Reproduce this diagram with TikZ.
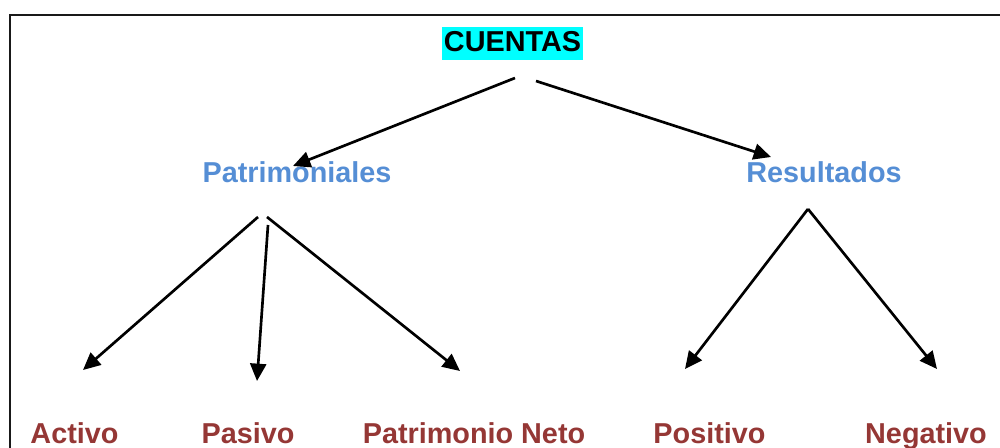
\documentclass[tikz,border=0pt]{standalone}
\usepackage{fontspec}
\setmainfont{Liberation Sans}
\usetikzlibrary{arrows.meta}

\definecolor{azulcuenta}{RGB}{85,142,213}
\definecolor{rojocuenta}{RGB}{149,55,53}

\tikzset{every picture/.style={line width=0.75pt}}
\tikzset{
  titulo/.style={anchor=base, inner sep=0pt, font=\bfseries\fontsize{21.6}{26}\selectfont},
  flecha/.style={line width=2pt, -{Triangle[length=13pt,width=12pt]}}
}

\begin{document}
\begin{tikzpicture}[x=0.75pt,y=0.75pt,yscale=-1,xscale=1]
\clip (0,0) rectangle (1000,448);

%Shape: Rectangle
\draw [line width=1.5pt, color={rgb, 255:red, 25; green, 25; blue, 25 }] (9.5,15) rectangle (1020,470) ;

% Text Node
\node (cuentas) at (512.5,52) [titulo, fill={rgb, 255:red, 0; green, 255; blue, 255 }, inner xsep=1.5pt, text height=18.75pt, text depth=6pt] {CUENTAS};
% Text Node
\node (patrimoniales) at (297,183) [titulo, color=azulcuenta] {Patrimoniales};
% Text Node
\node (resultados) at (824,183) [titulo, color=azulcuenta] {Resultados};
% Text Node
\node (activo) at (74.5,444) [titulo, color=rojocuenta] {Activo};
% Text Node
\node (pasivo) at (248,444) [titulo, color=rojocuenta] {Pasivo};
% Text Node
\node (neto) at (474,444) [titulo, color=rojocuenta] {Patrimonio Neto};
% Text Node
\node (positivo) at (709.5,444) [titulo, color=rojocuenta] {Positivo};
% Text Node
\node (negativo) at (926,444) [titulo, color=rojocuenta] {Negativo};

%Arrow ends
\coordinate (cuentasL) at (515,78) ;
\coordinate (cuentasR) at (536,81) ;
\coordinate (patrimonialesT) at (293,166) ;
\coordinate (resultadosT) at (771,157) ;
\coordinate (patrimonialesL) at (258,217) ;
\coordinate (patrimonialesM) at (268,225) ;
\coordinate (patrimonialesR) at (267,217) ;
\coordinate (resultadosB) at (808,209) ;
\coordinate (activoT) at (83,370) ;
\coordinate (pasivoT) at (257,381) ;
\coordinate (netoT) at (460,371) ;
\coordinate (positivoT) at (685,369) ;
\coordinate (negativoT) at (937,369) ;

%Straight Lines
\draw [flecha] (cuentasL) -- (patrimonialesT) ;
\draw [flecha] (cuentasR) -- (resultadosT) ;
%Straight Lines
\draw [flecha] (patrimonialesL) -- (activoT) ;
\draw [flecha] (patrimonialesM) -- (pasivoT) ;
\draw [flecha] (patrimonialesR) -- (netoT) ;
%Straight Lines
\draw [flecha] (resultadosB) -- (positivoT) ;
\draw [flecha] (resultadosB) -- (negativoT) ;

\end{tikzpicture}
\end{document}
